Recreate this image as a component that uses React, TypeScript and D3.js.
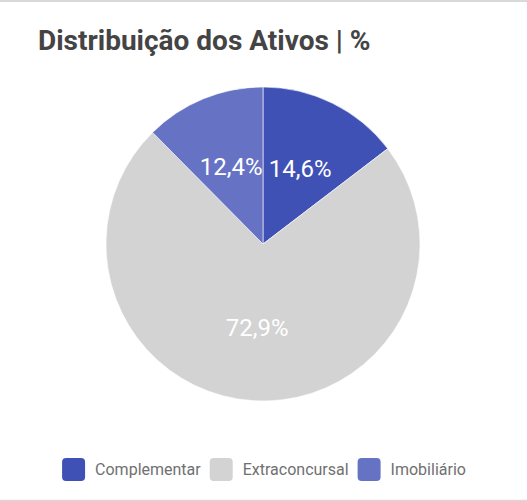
import React, { useEffect, useRef } from "react";
import * as d3 from "d3";

const categories = ["Complementar", "Extraconcursal", "Imobiliário"];
const values = [14.6, 72.9, 12.4];
const labels = ["14,6%", "72,9%", "12,4%"];
const colors = ["#3f51b5", "#d3d3d3", "#6673c5"];
const title = "Distribuição dos Ativos | %";

const W = 527;
const H = 501;

export default function App() {
  const ref = useRef<SVGSVGElement | null>(null);

  useEffect(() => {
    const svg = d3.select(ref.current);
    svg.selectAll("*").remove();

    svg.append("rect").attr("x", 0).attr("y", 0).attr("width", W).attr("height", H).attr("fill", "#fff");
    svg.append("line").attr("x1", 0).attr("x2", W).attr("y1", 1).attr("y2", 1).attr("stroke", "#d9d9d9").attr("stroke-width", 2);
    svg.append("line").attr("x1", 0).attr("x2", W).attr("y1", 500.5).attr("y2", 500.5).attr("stroke", "#d9d9d9").attr("stroke-width", 1.5);

    svg
      .append("text")
      .attr("x", 38)
      .attr("y", 50)
      .attr("font-family", "Roboto")
      .attr("font-weight", "bold")
      .attr("font-size", 28)
      .attr("fill", "#444444")
      .text(title);

    const cx = 263;
    const cy = 244;
    const r = 157;
    const data = categories.map((c, i) => ({ c, v: values[i], label: labels[i], color: colors[i] }));
    const pie = d3.pie<any>().value((d) => d.v).sort(null);
    const arcs = pie(data);
    const arc = d3.arc<any>().innerRadius(0).outerRadius(r);
    const labelArc = d3.arc<any>().innerRadius(84).outerRadius(84);

    const g = svg.append("g").attr("transform", `translate(${cx},${cy})`);
    g.selectAll("path.slice")
      .data(arcs)
      .enter()
      .append("path")
      .attr("d", arc as any)
      .attr("fill", (d: any) => d.data.color)
      .attr("stroke", "#ffffff")
      .attr("stroke-width", 0.6);

    g.selectAll("text.lbl")
      .data(arcs)
      .enter()
      .append("text")
      .attr("transform", (d: any) => {
        const [x, y] = labelArc.centroid(d);
        return `translate(${x},${y})`;
      })
      .attr("text-anchor", "middle")
      .attr("dy", "0.36em")
      .attr("font-family", "Roboto")
      .attr("font-size", 24)
      .attr("fill", "#ffffff")
      .text((d: any) => d.data.label);

    // legend
    const lg = svg.append("g");
    const box = 23;
    const gapText = 10;
    const gapItem = 9;
    const items: { node: any; w: number }[] = [];
    data.forEach((d) => {
      const it = lg.append("g");
      it.append("rect").attr("width", box).attr("height", box).attr("rx", 4).attr("fill", d.color).attr("y", 458);
      const t = it
        .append("text")
        .attr("x", box + gapText)
        .attr("y", 475)
        .attr("font-family", "Roboto")
        .attr("font-size", 16)
        .attr("fill", "#707070")
        .text(d.c);
      const tw = (t.node() as SVGTextElement).getComputedTextLength();
      items.push({ node: it, w: box + gapText + tw });
    });
    const total = items.reduce((s, it) => s + it.w, 0) + gapItem * (items.length - 1);
    let x = cx + 1 - total / 2;
    items.forEach((it) => {
      it.node.attr("transform", `translate(${x},0)`);
      x += it.w + gapItem;
    });
  }, []);

  return (
    <svg
      ref={ref}
      width={W}
      height={H}
      style={{ position: "absolute", left: 0, top: 0, display: "block" }}
    />
  );
}
